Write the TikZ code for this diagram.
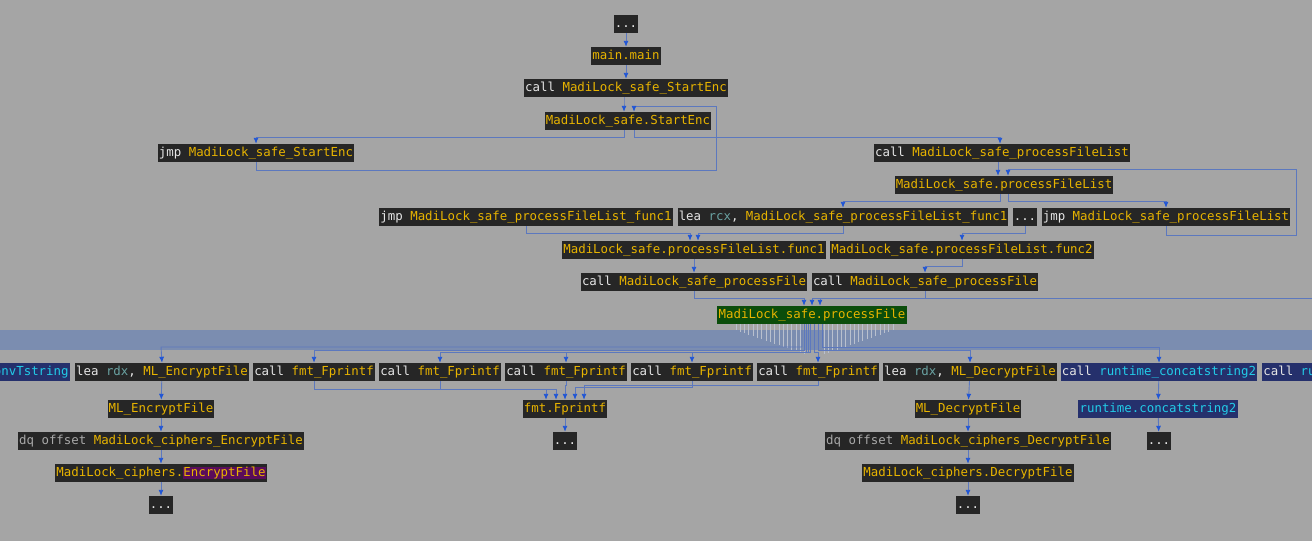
\documentclass[tikz,border=0pt]{standalone}
\usepackage{fontspec}
\setmonofont{DejaVu Sans Mono}
\usetikzlibrary{calc,arrows.meta}
\definecolor{bgc}{HTML}{A5A5A5}
\definecolor{boxc}{HTML}{262626}
\definecolor{yel}{HTML}{E8B400}
\definecolor{wht}{HTML}{E6E6E6}
\definecolor{tea}{HTML}{6AA3A3}
\definecolor{gry}{HTML}{A8A8A8}
\definecolor{cya}{HTML}{22CCE8}
\definecolor{bluebox}{HTML}{25306C}
\definecolor{grn}{HTML}{0B4D0B}
\definecolor{pur}{HTML}{5A0C5A}
\definecolor{edgec}{HTML}{5C78BE}
\definecolor{arrc}{HTML}{1F55D6}
\definecolor{bandc}{HTML}{7B8DB0}
\definecolor{fanc}{HTML}{B9C0CE}
\newcommand\cw[1]{\textcolor{wht}{#1}}
\newcommand\cy[1]{\textcolor{yel}{#1}}
\newcommand\ct[1]{\textcolor{tea}{#1}}
\newcommand\cgr[1]{\textcolor{gry}{#1}}
\newcommand\ccy[1]{\textcolor{cya}{#1}}
\tikzset{
 box/.style={fill=boxc, inner sep=1.2pt, minimum height=18pt, text height=10pt, text depth=3pt, font=\ttfamily\fontsize{12.4}{14}\selectfont},
 bbox/.style={box, fill=bluebox},
 gbox/.style={box, fill=grn},
 e/.style={draw=edgec, line width=0.9pt, -{Latex[length=6pt,width=5pt,color=arrc]}},
}
\begin{document}
\begin{tikzpicture}[x=1pt,y=-1pt]
\fill[bgc] (0,0) rectangle (1312,541);
\useasboundingbox (0,0) rectangle (1312,541);
% band
\fill[bandc] (0,330) rectangle (1312,350);
\foreach \i in {0,...,16}{
 \draw[fanc, line width=1pt] (736+\i*4.3,324) -- (736+\i*4.3,330+\i*1.5);
 \draw[fanc, line width=1pt] (893-\i*4.3,324) -- (893-\i*4.3,330+\i*1.5);
}
% nodes
\node[box] (d0) at (626,24) {\cw{...}};
\node[box] (mm) at (626,56) {\cy{main.main}};
\node[box] (cS) at (626,88) {\cw{call }\cy{MadiLock\_safe\_StartEnc}};
\node[box] (sE) at (628,121) {\cy{MadiLock\_safe.StartEnc}};
\node[box] (jS) at (256,153) {\cw{jmp }\cy{MadiLock\_safe\_StartEnc}};
\node[box] (cP) at (1002,153) {\cw{call }\cy{MadiLock\_safe\_processFileList}};
\node[box] (PF) at (1004,185) {\cy{MadiLock\_safe.processFileList}};
\node[box] (jF) at (526,217) {\cw{jmp }\cy{MadiLock\_safe\_processFileList\_func1}};
\node[box] (lF) at (843,217) {\cw{lea }\ct{rcx}\cw{, }\cy{MadiLock\_safe\_processFileList\_func1}};
\node[box] (dd) at (1025,217) {\cw{...}};
\node[box] (jP) at (1166,217) {\cw{jmp }\cy{MadiLock\_safe\_processFileList}};
\node[box] (f1) at (694,250) {\cy{MadiLock\_safe.processFileList.func1}};
\node[box] (f2) at (962,250) {\cy{MadiLock\_safe.processFileList.func2}};
\node[box] (cp1) at (694,282) {\cw{call }\cy{MadiLock\_safe\_processFile}};
\node[box] (cp2) at (925,282) {\cw{call }\cy{MadiLock\_safe\_processFile}};
\node[gbox] (pf) at (812,315) {\cy{MadiLock\_safe.processFile}};
\coordinate (rx) at (1312,298);
% row
\node[bbox, anchor=east] (cv) at (70,372) {\ccy{onvTstring}};
\node[box] (le) at (162,372) {\cw{lea }\ct{rdx}\cw{, }\cy{ML\_EncryptFile}};
\node[box] (p1) at (314,372) {\cw{call }\cy{fmt\_Fprintf}};
\node[box] (p2) at (440,372) {\cw{call }\cy{fmt\_Fprintf}};
\node[box] (p3) at (566,372) {\cw{call }\cy{fmt\_Fprintf}};
\node[box] (p4) at (692,372) {\cw{call }\cy{fmt\_Fprintf}};
\node[box] (p5) at (818,372) {\cw{call }\cy{fmt\_Fprintf}};
\node[box] (ld) at (970,372) {\cw{lea }\ct{rdx}\cw{, }\cy{ML\_DecryptFile}};
\node[bbox] (rc) at (1159,372) {\cw{call }\ccy{runtime\_concatstring2}};
\node[bbox, anchor=west] (cr) at (1262,372) {\cw{call }\ccy{ru}};
% lower
\node[box] (mE) at (161,409) {\cy{ML\_EncryptFile}};
\node[box] (fp) at (565,409) {\cy{fmt.Fprintf}};
\node[box] (mD) at (968,409) {\cy{ML\_DecryptFile}};
\node[bbox] (rs) at (1158,409) {\ccy{runtime.concatstring2}};
\node[box] (qE) at (161,441) {\cgr{dq offset }\cy{MadiLock\_ciphers\_EncryptFile}};
\node[box] (d1) at (565,441) {\cw{...}};
\node[box] (qD) at (968,441) {\cgr{dq offset }\cy{MadiLock\_ciphers\_DecryptFile}};
\node[box] (d2) at (1159,441) {\cw{...}};
\node[box] (cE) at (161,473) {\cy{MadiLock\_ciphers.}\setlength{\fboxsep}{0pt}\colorbox{pur}{\cy{EncryptFile}}};
\node[box] (cD) at (968,473) {\cy{MadiLock\_ciphers.DecryptFile}};
\node[box] (d3) at (161,505) {\cw{...}};
\node[box] (d4) at (968,505) {\cw{...}};
% edges top
\draw[e] (d0) -- (mm);
\draw[e] (mm) -- (cS);
\draw[e] ([xshift=-2pt]cS.south) -- ++(0,6) -| ([xshift=-4pt]sE.north);
\draw[e] (jS.south) -- ++(0,8) -| (716,106) -| ([xshift=6pt]sE.north);
\draw[e] ([xshift=-4pt]sE.south) -- ++(0,7) -| (jS.north);
\draw[e] ([xshift=6pt]sE.south) -- ++(0,7) -| ([xshift=-2pt]cP.north);
\draw[e] ([xshift=-4pt]cP.south) -- ++(0,6) -| ([xshift=-6pt]PF.north);
\draw[e] (jP.south) -- ++(0,9) -| (1296,169) -| ([xshift=4pt]PF.north);
\draw[e] ([xshift=-4pt]PF.south) -- ++(0,7) -| (lF.north);
\draw[e] ([xshift=4pt]PF.south) -- ++(0,7) -| (jP.north);
\draw[e] (dd.south) -- ++(0,7) -| (f2.north);
\draw[e] (jF.south) -- ++(0,7) -| ([xshift=-4pt]f1.north);
\draw[e] (lF.south) -- ++(0,7) -| ([xshift=4pt]f1.north);
\draw[e] (f1) -- (cp1);
\draw[e] (f2.south) -- ++(0,7) -| (cp2.north);
\draw[e] (cp1.south) -- ++(0,7) -| ([xshift=-8pt]pf.north);
\draw[e] (cp2.south) -- ++(0,7) -| (pf.north);
\draw[e] (rx) -| ([xshift=8pt]pf.north);
% from processFile to row
\draw[e] ([xshift=-10pt]pf.south) |- (161,347) -- (le.north);
\draw[e] ([xshift=-8pt]pf.south) |- (314,350) -- (p1.north);
\draw[e] ([xshift=-6pt]pf.south) |- (440,352) -- (p2.north);
\draw[e] ([xshift=-4pt]pf.south) |- (566,352) -- (p3.north);
\draw[e] ([xshift=-2pt]pf.south) |- (692,352) -- (p4.north);
\draw[e] ([xshift=2pt]pf.south) |- (818,352) -- (p5.north);
\draw[e] ([xshift=6pt]pf.south) |- (970,350) -- (ld.north);
\draw[e] ([xshift=10pt]pf.south) |- (1159,347) -- (rc.north);
% row to lower
\draw[e] (le) -- (mE);
\draw[e] (p1.south) -- ++(0,8) -| ([xshift=-19pt]fp.north);
\draw[e] (p2.south) -- ++(0,8) -| ([xshift=-9pt]fp.north);
\draw[e] (p3.south) -- ++(0,4) -| ([xshift=0pt]fp.north);
\draw[e] (p4.south) -- ++(0,6) -| ([xshift=10pt]fp.north);
\draw[e] (p5.south) -- ++(0,4) -| ([xshift=19pt]fp.north);
\draw[e] (ld) -- (mD);
\draw[e] (rc) -- (rs);
\draw[e] (mE) -- (qE);
\draw[e] (fp) -- (d1);
\draw[e] (mD) -- (qD);
\draw[e] (rs) -- (d2);
\draw[e] (qE) -- (cE);
\draw[e] (qD) -- (cD);
\draw[e] (cE) -- (d3);
\draw[e] (cD) -- (d4);
\end{tikzpicture}
\end{document}
